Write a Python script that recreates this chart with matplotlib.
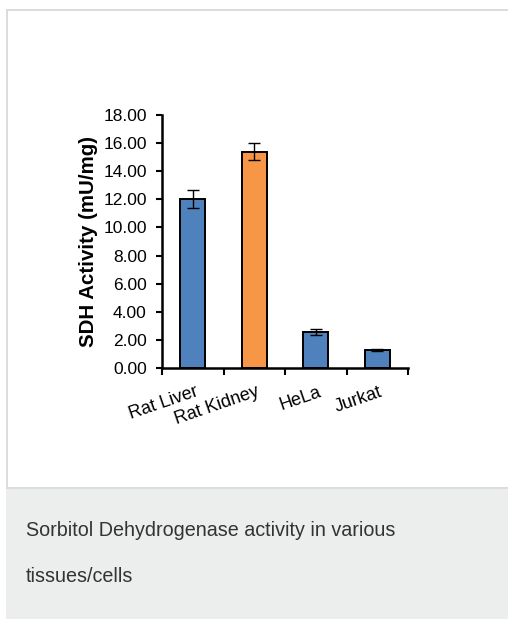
import matplotlib
matplotlib.use("Agg")
import matplotlib.pyplot as plt
from matplotlib.patches import Rectangle

categories = ["Rat Liver", "Rat Kidney", "HeLa", "Jurkat"]
activity = [12.0, 15.38, 2.54, 1.28]
errors = [0.65, 0.6, 0.2, 0.1]
bar_colors = ["#4f81bd", "#f79646", "#4f81bd", "#4f81bd"]
yticks = [0, 2, 4, 6, 8, 10, 12, 14, 16, 18]
caption_lines = ["Sorbitol Dehydrogenase activity in various", "tissues/cells"]

plt.rcParams['font.family'] = ['Liberation Sans', 'DejaVu Sans']

W, H = 508, 619
fig = plt.figure(figsize=(W / 100, H / 100), dpi=100)
fig.patch.set_facecolor("white")

def px(x0, y0, w, h, **kw):
    # rectangle in pixel coords, y from top
    r = Rectangle((x0 / W, 1 - (y0 + h) / H), w / W, h / H,
                  transform=fig.transFigure, **kw)
    fig.patches.append(r)

# card border + caption panel
px(6, 489, 502, 130, facecolor="#eceeed", edgecolor="none")
px(6, 9, 502, 2, facecolor="#dcdcdc", edgecolor="none")
px(6, 9, 2, 480, facecolor="#dcdcdc", edgecolor="none")
px(6, 487, 502, 2, facecolor="#dcdcdc", edgecolor="none")

for yy, line in zip([531, 577], caption_lines):
    fig.text(26 / W, 1 - yy / H, line, fontsize=14.2, color="#333333",
             ha="left", va="center")

ax = fig.add_axes([162 / W, 1 - 368 / H, 246 / W, 253 / H])
x = list(range(len(categories)))
ax.bar(x, activity, width=0.4, color=bar_colors, edgecolor="black",
       linewidth=1.4, yerr=errors, capsize=4,
       error_kw=dict(elinewidth=1, ecolor="black", capthick=1))

ax.set_xlim(-0.5, len(categories) - 0.5)
ax.set_ylim(0, 18)
ax.set_yticks(yticks)
ax.set_yticklabels(["%.2f" % v for v in yticks], fontsize=12.5)
ax.set_xticks([i - 0.5 for i in range(len(categories) + 1)])
ax.set_xticklabels([])
ax.tick_params(axis="x", direction="out", length=5, width=1.5)
ax.tick_params(axis="y", direction="out", length=4, width=1.5, pad=7)
for i, lab in enumerate(categories):
    ax.text(i + 0.03, -1.1, lab, rotation=19, rotation_mode="anchor",
            ha="right", va="top", fontsize=13)

ax.spines["top"].set_visible(False)
ax.spines["right"].set_visible(False)
ax.spines["left"].set_linewidth(1.8)
ax.spines["bottom"].set_linewidth(1.8)
ax.set_ylabel("SDH Activity (mU/mg)", fontsize=14.8, fontweight="bold")
ax.yaxis.set_label_coords(-0.26, 0.5)

fig.savefig("out.png", dpi=100, facecolor="white")
